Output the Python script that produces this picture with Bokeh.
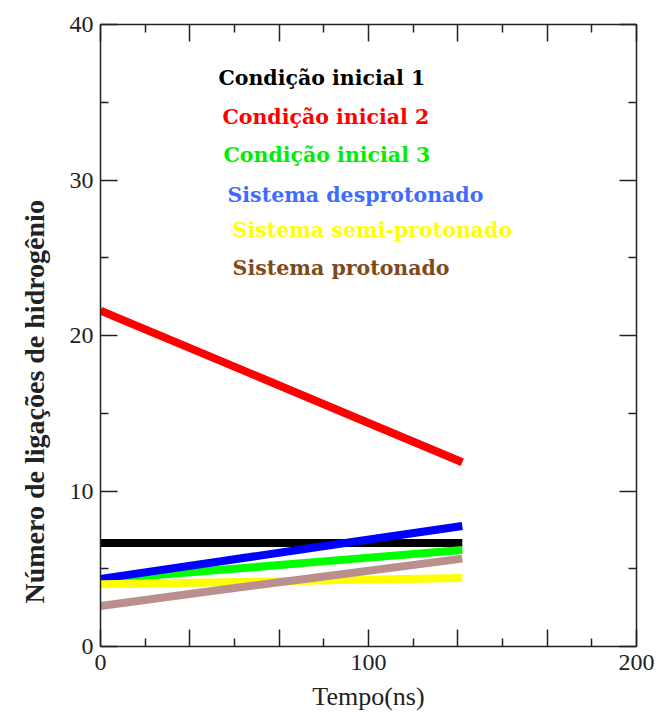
import math
from bokeh.plotting import figure
from bokeh.models import (Range1d, FixedTicker, LinearAxis, Label, Title,
                          CustomJSTickFormatter, ColumnDataSource)
from bokeh.embed import file_html
from bokeh.resources import INLINE

# ---- data ----
tempo = [0, 45, 90, 135]
cond1 = [6.65, 6.65, 6.65, 6.65]
cond2 = [21.6, 18.35, 15.1, 11.85]
cond3 = [4.3, 4.93, 5.57, 6.2]
desprot = [4.35, 5.48, 6.62, 7.75]
semiprot = [4.0, 4.13, 4.27, 4.4]
prot = [2.6, 3.65, 4.65, 5.65]

series_names = ["Condição inicial 1", "Condição inicial 2", "Condição inicial 3",
                "Sistema desprotonado", "Sistema semi-protonado", "Sistema protonado"]
series_values = [cond1, cond2, cond3, desprot, semiprot, prot]
line_colors = ["#000000", "#ff0000", "#00ff00", "#0000ff", "#ffff00", "#bc8f8f"]
text_colors = ["#000000", "#ff0000", "#00ee00", "#3f6cff", "#ffff00", "#7f4a1a"]
# legend text anchor positions (data units)
legend_x = [44.0, 45.5, 45.9, 47.4, 49.3, 49.3]
legend_y = [36.54, 34.04, 31.6, 29.04, 26.8, 24.36]

x_major = [i * 100 / 3 for i in range(7)]
x_minor = [(2 * i + 1) * 100 / 6 for i in range(6)]
y_major = [0, 10, 20, 30, 40]
y_minor = [5, 15, 25, 35]

FONT = "Liberation Serif"

p = figure(width=657, height=713, output_backend="svg", toolbar_location=None,
           x_range=Range1d(0, 200), y_range=Range1d(0, 40),
           x_axis_location=None, y_axis_location=None,
           min_border_left=100, min_border_right=21, min_border_top=24,
           min_border_bottom=65)
p.xgrid.visible = False
p.ygrid.visible = False
p.outline_line_color = None
p.background_fill_color = "white"
p.border_fill_color = "white"

fmt_x = CustomJSTickFormatter(code="""
    const r = Math.round(tick);
    if (Math.abs(tick - r) < 1e-6 && r % 100 == 0) { return r.toString(); }
    return "";
""")
fmt_none = CustomJSTickFormatter(code='return "";')

def style_axis(ax):
    ax.axis_line_color = "#222222"
    ax.axis_line_width = 1.5
    ax.major_tick_line_color = "#222222"
    ax.major_tick_line_width = 1.5
    ax.minor_tick_line_color = "#222222"
    ax.minor_tick_line_width = 1.5
    ax.major_tick_in = 17
    ax.major_tick_out = 0
    ax.minor_tick_in = 8
    ax.minor_tick_out = 0
    ax.major_label_text_font = FONT
    ax.major_label_text_color = "#222222"
    ax.major_label_text_font_size = "24px"

xt = FixedTicker(ticks=x_major, minor_ticks=x_minor)
yt = FixedTicker(ticks=y_major, minor_ticks=y_minor)

xb = LinearAxis(ticker=xt, formatter=fmt_x, axis_label="Tempo(ns)")
style_axis(xb)
xb.major_label_standoff = 8
xb.axis_label_text_font = FONT
xb.axis_label_text_font_style = "normal"
xb.axis_label_text_font_size = "26px"
xb.axis_label_text_color = "#222222"
xb.axis_label_standoff = 9
p.add_layout(xb, "below")

xa = LinearAxis(ticker=xt, formatter=fmt_none)
style_axis(xa)
xa.major_label_standoff = 0
p.add_layout(xa, "above")

yl = LinearAxis(ticker=yt)
style_axis(yl)
yl.major_label_standoff = 7
p.add_layout(yl, "left")

yr = LinearAxis(ticker=yt, formatter=fmt_none)
style_axis(yr)
yr.major_label_standoff = 0
p.add_layout(yr, "right")

for vals, col in zip(series_values, line_colors):
    src = ColumnDataSource(dict(x=tempo, y=vals))
    p.line("x", "y", source=src, line_color=col, line_width=8, line_cap="butt")

for name, tc, lx, ly in zip(series_names, text_colors, legend_x, legend_y):
    p.add_layout(Label(x=lx, y=ly, text=name, text_color=tc,
                       text_font="DejaVu Serif", text_font_style="bold",
                       text_font_size="20.5px", text_baseline="middle",
                       text_align="left"))

ytitle = Title(text="Número de ligações de hidrogênio", align="left", offset=43,
               standoff=30, vertical_align="top", text_font=FONT,
               text_font_style="bold", text_font_size="28px",
               text_color="#222222")
p.add_layout(ytitle, "left")

open("out.html", "w").write(file_html(p, INLINE))
